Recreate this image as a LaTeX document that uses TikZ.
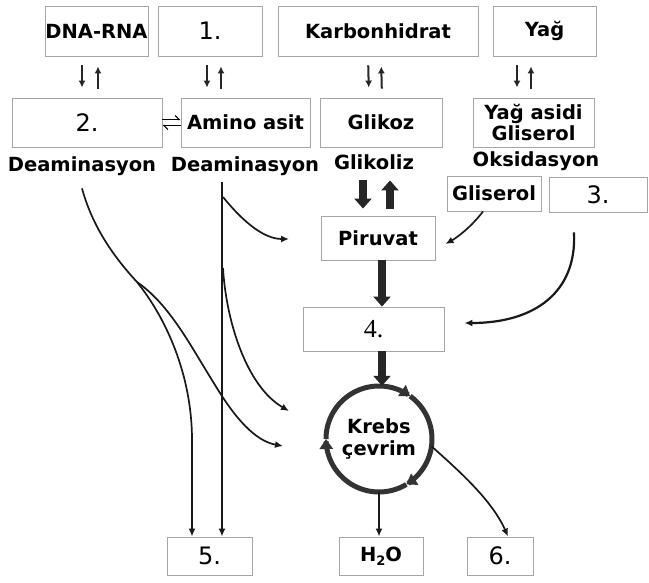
\documentclass[tikz,border=0pt]{standalone}
\usepackage{fontspec}
\setmainfont{DejaVu Sans}
\newfontfamily\serifnum{Liberation Serif}
\usetikzlibrary{arrows.meta}
\begin{document}
\begin{tikzpicture}[x=1pt,y=-1pt,
  box/.style={draw=gray!70, line width=0.9pt, inner sep=0pt, align=center, font=\fontsize{19.5}{19}\selectfont\bfseries},
  numbox/.style={box, font=\fontsize{24}{26}\selectfont},
  lbl/.style={inner sep=0pt, font=\fontsize{19.5}{21}\selectfont\bfseries},
  thinarr/.style={line width=1.7pt, draw=black!90, -{Latex[length=8pt,width=7pt]}},
  smallarr/.style={line width=2pt, draw=black!85, -{Latex[length=7pt,width=7pt]}, shorten <=9pt, shorten >=10pt},
  thickarr/.style={line width=8pt, draw=black!85, -{Triangle[length=10pt,width=17pt]}},
  cyc/.style={line width=5pt, draw=black!80, -{Triangle[length=10pt,width=13pt]}},
]
\useasboundingbox (0,0) rectangle (649,583);
\fill[white] (0,0) rectangle (649,583);

% top row
\node[box, minimum width=103pt, minimum height=50pt] (dna) at (96.5,31) {DNA-RNA};
\node[numbox, minimum width=104pt, minimum height=50pt] (one) at (210,31) {1.};
\node[box, minimum width=200pt, minimum height=50pt] (karb) at (378,31) {Karbonhidrat};
\node[box, minimum width=103pt, minimum height=50pt] (yag) at (544.5,31) {Yağ};

% second row
\node[numbox, minimum width=150pt, minimum height=49pt] (two) at (87,122.5) {2.};
\node[box, minimum width=129pt, minimum height=49pt] (amino) at (245.5,122.5) {Amino asit};
\node[box, minimum width=122pt, minimum height=49pt] (glikoz) at (381,122.5) {Glikoz};
\node[box, minimum width=121pt, minimum height=49pt] (yagasidi) at (533.5,122.5) {Yağ asidi\\Gliserol};

% labels
\node[lbl, anchor=base] (deam1) at (82,172) {Deaminasyon};
\node[lbl, anchor=base] (deam2) at (245,172) {Deaminasyon};
\node[lbl, anchor=base] (glikoliz) at (374,170) {Glikoliz};
\node[lbl, anchor=base] (oksid) at (536,167) {Oksidasyon};

% third row
\node[box, minimum width=94pt, minimum height=35pt] (gliserol) at (494,193.5) {Gliserol};
\node[numbox, minimum width=98pt, minimum height=35pt] (three) at (598,194.5) {3.};
\node[box, minimum width=114pt, minimum height=44pt] (piruvat) at (378,238) {Piruvat};
\node[draw=gray!70, line width=0.9pt, inner sep=0pt, minimum width=141pt, minimum height=44pt, font=\serifnum\fontsize{26}{28}\selectfont] (four) at (373.5,329) {4.};

% Krebs cycle
\node[lbl, align=center, circle, minimum size=106pt, font=\fontsize{19.5}{22}\selectfont\bfseries] (krebs) at (379,439) {Krebs\\çevrim};
\draw[cyc] plot[domain=180:306, samples=50] ({379+53*cos(\x)},{439+53*sin(\x)});
\draw[cyc] plot[domain=306:419, samples=50] ({379+53*cos(\x)},{439+53*sin(\x)});
\draw[cyc] plot[domain=59:180, samples=50] ({379+53*cos(\x)},{439+53*sin(\x)});

% bottom row
\node[numbox, minimum width=85pt, minimum height=38pt] (five) at (209.5,556) {5.};
\node[box, minimum width=84pt, minimum height=38pt] (h2o) at (381,556) {H\raisebox{-4pt}{\fontsize{13}{13}\selectfont 2}O};
\node[numbox, minimum width=66pt, minimum height=38pt] (six) at (500,556) {6.};

% small double arrows
\draw[smallarr] ([xshift=-14.5pt]dna.south) -- ([xshift=-5pt]two.north);
\draw[smallarr] ([xshift=11pt]two.north) -- ([xshift=1.5pt]dna.south);
\draw[smallarr] ([xshift=-3pt]one.south) -- ([xshift=-38.5pt]amino.north);
\draw[smallarr] ([xshift=-24.5pt]amino.north) -- ([xshift=11pt]one.south);
\draw[smallarr] ([xshift=-10pt]karb.south) -- ([xshift=-12pt]glikoz.north);
\draw[smallarr] ([xshift=1pt]glikoz.north) -- ([xshift=3pt]karb.south);
\draw[smallarr] ([xshift=-27.5pt]yag.south) -- ([xshift=-16.5pt]yagasidi.north);
\draw[smallarr] ([xshift=-2.5pt]yagasidi.north) -- ([xshift=-13.5pt]yag.south);

% exchange arrows between 2. and amino asit
\draw[line width=1.2pt, -{Straight Barb[harpoon,length=4pt]}] ([yshift=3pt]two.east) -- ([yshift=3pt]amino.west);
\draw[line width=1.2pt, -{Straight Barb[harpoon,length=4pt]}] ([yshift=-3pt]amino.west) -- ([yshift=-3pt]two.east);

% thick arrows
\draw[thickarr, shorten <=33pt, shorten >=7pt] ([xshift=-18pt]glikoz.south) -- ([xshift=-15pt]piruvat.north);
\draw[thickarr, shorten <=7pt, shorten >=33pt] ([xshift=12pt]piruvat.north) -- ([xshift=9pt]glikoz.south);
\draw[thickarr] ([xshift=4pt]piruvat.south) -- ([xshift=8.5pt]four.north);
\draw[thickarr] ([xshift=8.5pt]four.south) -- ([xshift=3pt]krebs.north);

% free ends and branch points
\coordinate (k1) at (283,446);
\coordinate (k2) at (289,411);
\coordinate (p1) at (289,239);
\coordinate (s1) at (137,282);
\coordinate (b1) at (223,197);
\coordinate (b2) at (223,268);

% left side connectors
\draw[thinarr] ([yshift=-12pt]deam1.south) .. controls (92,225) and (112,255) .. (s1)
  .. controls (166,318) and (192,375) .. (192,440) -- ([xshift=-17.5pt]five.north);
\draw[thinarr] (s1) .. controls (170,305) and (190,345) .. (215,385)
  .. controls (235,418) and (255,441) .. (k1);
\draw[thinarr] ([xshift=-23pt,yshift=-6pt]deam2.south) -- ([xshift=12.5pt]five.north);
\draw[thinarr] (b1) .. controls (240,218) and (262,239) .. (p1);
\draw[thinarr] (b2) .. controls (226,320) and (246,386) .. (k2);

% right side connectors
\draw[thinarr] ([xshift=-11pt]gliserol.south) .. controls (472,226) and (458,237) .. ([xshift=10pt,yshift=-6pt]piruvat.east);
\draw[thinarr, line width=2.2pt] ([xshift=-24pt,yshift=-20pt]three.south) .. controls (577,292) and (535,323) .. ([xshift=20pt,yshift=6pt]four.east);

% outputs of the cycle
\draw[thinarr] (krebs.south) -- (krebs.south |- h2o.north);
\draw[thinarr] (krebs.-8) .. controls (458,470) and (492,500) .. ([xshift=8pt]six.north);
\end{tikzpicture}
\end{document}
